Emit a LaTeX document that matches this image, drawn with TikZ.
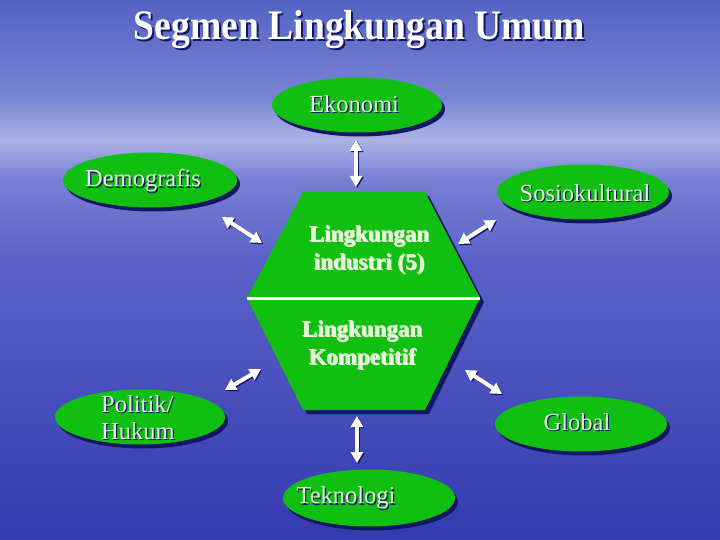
\documentclass[tikz,border=0pt]{standalone}
\usepackage{fontspec}
\setmainfont{Liberation Serif}
\usetikzlibrary{arrows.meta,shapes.geometric,shadows}
\definecolor{sky1}{RGB}{84,98,196}
\definecolor{sky2}{RGB}{120,132,212}
\definecolor{hor}{RGB}{172,178,230}
\definecolor{hor2}{RGB}{120,128,212}
\definecolor{seaT}{RGB}{90,98,200}
\definecolor{seaM}{RGB}{70,78,188}
\definecolor{seaB}{RGB}{52,58,176}
\definecolor{gr}{RGB}{16,192,16}
\definecolor{shc}{RGB}{20,22,100}
\definecolor{txc}{RGB}{232,245,220}
\pgfdeclareverticalshading{bgsh}{100bp}{color(0bp)=(seaB); color(25bp)=(seaB); color(38bp)=(seaM); color(51bp)=(seaT); color(58.5bp)=(hor2); color(62bp)=(hor); color(66bp)=(sky2); color(75bp)=(sky1); color(100bp)=(sky1)}
\tikzset{
  gell/.style={ellipse, fill=gr, inner sep=0pt, minimum width=172pt, minimum height=55pt,
    general shadow={fill=shc, shadow xshift=3pt, shadow yshift=-4pt}},
  tx/.style={font=\fontsize{24.5}{27}\selectfont, text=txc, align=center, inner sep=0pt},
  htx/.style={font=\bfseries\fontsize{23}{28}\selectfont, text=txc, align=center, inner sep=0pt},
  arr/.style={line width=4pt, white, {Triangle[length=11pt,width=12pt]}-{Triangle[length=11pt,width=12pt]}},
  arrsh/.style={line width=4pt, shc, {Triangle[length=11pt,width=12pt]}-{Triangle[length=11pt,width=12pt]}},
  ttl/.style={font=\bfseries\fontsize{40}{42}\selectfont, inner sep=0pt, xscale=0.94, yscale=1.05, transform shape},
}
\newcommand\shtext[4][]{%
  \node[tx,text=shc,#1] at ([shift={(1.2,1.2)}]#3) {#4};
  \node[tx,#1] (#2) at (#3) {#4};}
\newcommand\sharrow[2]{%
  \draw[arrsh,transform canvas={shift={(1.2pt,-1.2pt)}}] (#1) -- (#2);
  \draw[arr] (#1) -- (#2);}
\begin{document}
\begin{tikzpicture}[x=1pt,y=-1pt]
\useasboundingbox (0,0) rectangle (720,540);
\shade[shading=bgsh] (0,0) rectangle (720,540);
% title
\node[ttl, text=shc] at (361.5,31.5) {Segmen Lingkungan Umum};
\node[ttl, text=white] (title) at (359.5,29.5) {Segmen Lingkungan Umum};
% hexagon
\fill[shc] (307,196) -- (429,196) -- (484,302) -- (429,414) -- (307,414) -- (251,302) -- cycle;
\fill[gr] (303,192) coordinate (h1) -- (425,192) coordinate (h2) -- (480,298) coordinate (h3)
  -- (425,410) coordinate (h4) -- (303,410) coordinate (h5) -- (247,298) coordinate (h6) -- cycle;
\draw[white, line width=3pt] (h6) -- (h3);
\shtext[htx]{hexA}{369,250}{Lingkungan\\industri (5)}
\shtext[htx]{hexB}{362,345}{Lingkungan\\Kompetitif}
% ellipses
\node[gell, minimum width=170pt] (eko) at (357,105) {};
\node[gell, minimum width=174pt] (dem) at (150,180) {};
\node[gell] (sos) at (583,192) {};
\node[gell, minimum width=170pt] (pol) at (140,417) {};
\node[gell] (glo) at (581,424) {};
\node[gell, minimum height=57pt] (tek) at (369,498) {};
\shtext{ekoT}{354,104}{Ekonomi}
\shtext{demT}{143,181}{Demografis}
\shtext{sosT}{585,193}{Sosiokultural}
\shtext[anchor=west,align=left]{polT}{101,417.5}{Politik/\\Hukum}
\shtext{gloT}{577,422}{Global}
\shtext{tekT}{346,498}{Teknologi}
% arrow end points
\coordinate (a1) at (356,140); \coordinate (b1) at (356,187);
\coordinate (a2) at (222,217); \coordinate (b2) at (262,243);
\coordinate (a3) at (496,220); \coordinate (b3) at (458,244);
\coordinate (a4) at (225,390); \coordinate (b4) at (261,369);
\coordinate (a5) at (465,370); \coordinate (b5) at (502,394);
\coordinate (a6) at (357,416); \coordinate (b6) at (357,463);
\sharrow{a1}{b1}
\sharrow{a2}{b2}
\sharrow{a3}{b3}
\sharrow{a4}{b4}
\sharrow{a5}{b5}
\sharrow{a6}{b6}
\end{tikzpicture}
\end{document}
